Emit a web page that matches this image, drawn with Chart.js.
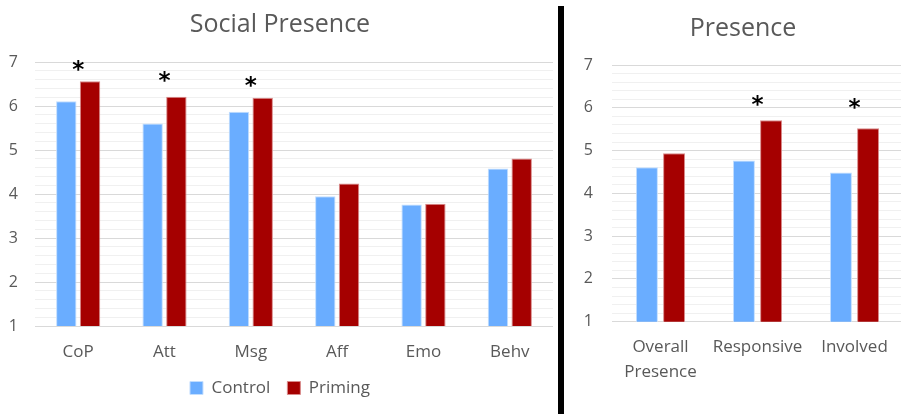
<!DOCTYPE html>
<html>
<head>
<meta charset="utf-8">
<script src="https://cdn.jsdelivr.net/npm/chart.js@4.4.1/dist/chart.umd.min.js"></script>
<style>
  html, body { margin: 0; padding: 0; background: #fff; overflow: hidden; }
  body { width: 901px; height: 414px; position: relative; }
  #leftBox { position: absolute; left: 0; top: 0; width: 556px; height: 414px; }
  #rightBox { position: absolute; left: 567px; top: 0; width: 336px; height: 414px; }
  #divider { position: absolute; left: 558px; top: 6px; width: 6px; height: 408px; background: #000; }
</style>
</head>
<body>
<div id="leftBox"><canvas id="socialChart"></canvas></div>
<div id="divider"></div>
<div id="rightBox"><canvas id="presenceChart"></canvas></div>
<script>
// Social Presence
const socialLabels = ['CoP', 'Att', 'Msg', 'Aff', 'Emo', 'Behv'];
const socialControl = [6.11, 5.60, 5.87, 3.95, 3.76, 4.58];
const socialPriming = [6.56, 6.21, 6.19, 4.24, 3.78, 4.81];
const socialStars = [6.91, 6.68, 6.55, null, null, null];

// Presence
const presenceLabels = [['Overall', 'Presence'], 'Responsive', 'Involved'];
const presenceControl = [4.61, 4.77, 4.49];
const presencePriming = [4.94, 5.71, 5.52];
const presenceStars = [null, 6.16, 6.09];

const yTicks = [1, 2, 3, 4, 5, 6, 7];

const blue = '#6aadff';
const red = '#a50000';
const textGray = '#595959';

function isWhole(v) {
    return Math.abs(v - Math.round(v)) < 1e-6;
}

// draws the significance asterisks centred on the category
const starPlugin = {
    id: 'stars',
    afterDatasetsDraw(chart, args, opts) {
        const ctx = chart.ctx;
        const xs = chart.scales.x;
        const ys = chart.scales.y;
        ctx.save();
        ctx.font = 'bold 23px "DejaVu Sans"';
        ctx.fillStyle = '#000';
        ctx.textAlign = 'center';
        ctx.textBaseline = 'alphabetic';
        const m = ctx.measureText('*');
        const mid = (m.actualBoundingBoxAscent - m.actualBoundingBoxDescent) / 2;
        opts.marks.forEach((v, i) => {
            if (v == null) return;
            ctx.fillText('*', xs.getPixelForValue(i), ys.getPixelForValue(v) + mid);
        });
        ctx.restore();
    }
};

function makeOptions(cfg) {
    return {
        responsive: true,
        maintainAspectRatio: false,
        animation: false,
        layout: { padding: cfg.padding },
        plugins: {
            title: {
                display: true,
                text: cfg.title,
                color: textGray,
                font: { family: '"Open Sans"', size: 25, weight: 'normal' },
                padding: cfg.titlePad
            },
            legend: {
                display: cfg.legend,
                position: 'bottom',
                labels: {
                    color: textGray,
                    font: { family: '"Open Sans"', size: 17 },
                    boxWidth: 13,
                    boxHeight: 13,
                    padding: 17
                }
            },
            tooltip: { enabled: false },
            stars: { marks: cfg.stars }
        },
        scales: {
            x: {
                afterFit: (s) => { s.height = cfg.xHeight; },
                grid: { display: false, drawTicks: false },
                border: { display: false },
                ticks: {
                    color: textGray,
                    font: { family: '"Open Sans"', size: 17, lineHeight: cfg.lineHeight },
                    padding: cfg.tickPad,
                    maxRotation: 0,
                    autoSkip: false
                }
            },
            y: {
                min: yTicks[0],
                max: yTicks[yTicks.length - 1],
                border: { display: false },
                afterFit: (s) => { s.width = cfg.yWidth; },
                grid: {
                    drawTicks: false,
                    lineWidth: 1,
                    color: (c) => isWhole(c.tick.value) ? '#d9d9d9' : '#f0f0f0'
                },
                ticks: {
                    stepSize: 0.2,
                    autoSkip: false,
                    color: textGray,
                    padding: cfg.yPad,
                    font: { family: '"Open Sans"', size: 16 },
                    callback: (v) => (isWhole(v) && yTicks.includes(Math.round(v))) ? Math.round(v) : ''
                }
            }
        }
    };
}

function makeDatasets(control, priming, catPct, barPct) {
    return [
        {
            label: 'Control',
            data: control,
            backgroundColor: blue,
            borderColor: '#c2defe',
            borderWidth: 1,
            categoryPercentage: catPct,
            barPercentage: barPct
        },
        {
            label: 'Priming',
            data: priming,
            backgroundColor: red,
            borderColor: '#d98a8a',
            borderWidth: 1,
            categoryPercentage: catPct,
            barPercentage: barPct
        }
    ];
}

new Chart(document.getElementById('socialChart'), {
    type: 'bar',
    data: {
        labels: socialLabels,
        datasets: makeDatasets(socialControl, socialPriming, 0.55, 0.86)
    },
    options: makeOptions({
        title: 'Social Presence',
        titlePad: { top: 10, bottom: 22 },
        padding: { left: 7, right: 3, top: 0, bottom: 7.5 },
        legend: true,
        stars: socialStars,
        yWidth: 28,
        yPad: 17,
        xHeight: 36.4,
        tickPad: 16,
        lineHeight: 1.2
    }),
    plugins: [starPlugin]
});

new Chart(document.getElementById('presenceChart'), {
    type: 'bar',
    data: {
        labels: presenceLabels,
        datasets: makeDatasets(presenceControl, presencePriming, 0.56, 0.81)
    },
    options: makeOptions({
        title: 'Presence',
        titlePad: { top: 14, bottom: 21 },
        padding: { left: 16, right: 0, top: 0, bottom: 0 },
        legend: false,
        stars: presenceStars,
        yWidth: 29,
        yPad: 19,
        xHeight: 92.3,
        tickPad: 13,
        lineHeight: 1.45
    }),
    plugins: [starPlugin]
});
</script>
</body>
</html>
